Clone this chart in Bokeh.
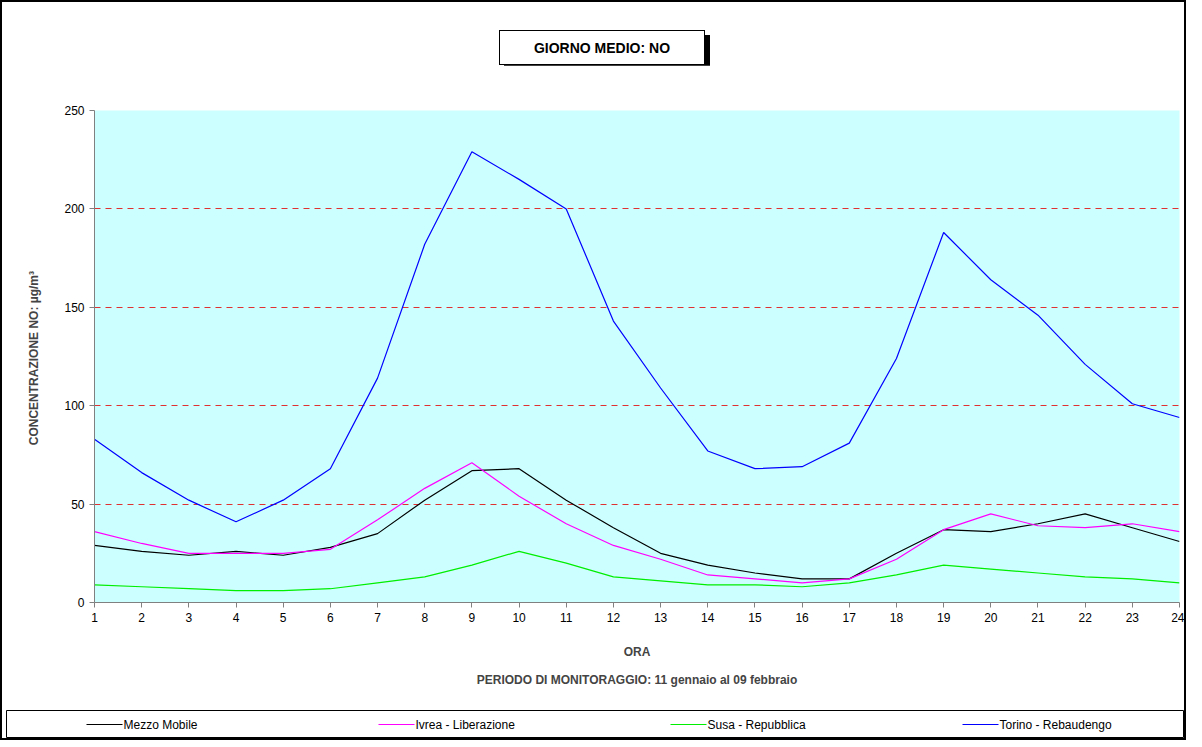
from bokeh.plotting import figure
from bokeh.models import Title, FixedTicker, Div
from bokeh.layouts import column, row
from bokeh.embed import file_html
from bokeh.resources import INLINE

ore = list(range(1, 25))
mezzo_mobile = [29, 26, 24, 26, 24, 28, 35, 52, 67, 68, 52, 38, 25, 19, 15, 12, 12, 25, 37, 36, 40, 45, 38, 31]
ivrea = [36, 30, 25, 25, 25, 27, 42, 58, 71, 54, 40, 29, 22, 14, 12, 10, 12, 22, 37, 45, 39, 38, 40, 36]
susa = [9, 8, 7, 6, 6, 7, 10, 13, 19, 26, 20, 13, 11, 9, 9, 8, 10, 14, 19, 17, 15, 13, 12, 10]
torino = [83, 66, 52, 41, 52, 68, 114, 182, 229, 215, 200, 143, 109, 77, 68, 69, 81, 124, 188, 164, 146, 121, 101, 94]
y_ticks = [0, 50, 100, 150, 200, 250]
serie = ["Mezzo Mobile", "Ivrea - Liberazione", "Susa - Repubblica", "Torino - Rebaudengo"]
colori = ["black", "#FF00FF", "#00EE00", "#0000FF"]

FONT = "Liberation Sans"

# riquadro titolo con ombra
titolo = Div(text="GIORNO MEDIO: NO", width=206, height=35,
             styles={"border": "1px solid black", "box-shadow": "5px 5px 0 black",
                     "background": "white", "font-family": FONT, "font-size": "14px",
                     "font-weight": "bold", "text-align": "center", "line-height": "35px",
                     "box-sizing": "border-box"})
titolo.margin = (28, 0, 0, 497)

p = figure(width=1182, height=639, x_range=(1, 24), y_range=(0, 250),
           output_backend="svg", toolbar_location=None,
           min_border_left=92, min_border_right=5, min_border_top=45, min_border_bottom=102)
p.background_fill_color = "#CCFFFF"
p.outline_line_color = None

p.xaxis.ticker = FixedTicker(ticks=ore)
p.yaxis.ticker = FixedTicker(ticks=y_ticks)
p.xgrid.grid_line_color = None
p.ygrid.grid_line_color = "#E03030"
p.ygrid.grid_line_dash = "6 5"
for ax in (p.xaxis, p.yaxis):
    ax.axis_line_color = "#808080"
    ax.major_tick_line_color = "#808080"
    ax.minor_tick_line_color = None
    ax.major_label_text_font = FONT
    ax.major_label_text_font_size = "12px"
    ax.major_label_text_color = "black"
    ax.axis_label_text_font = FONT
    ax.axis_label_text_font_size = "12px"
    ax.axis_label_text_font_style = "bold"
    ax.major_tick_in = 0
    ax.major_tick_out = 5
p.xaxis.axis_label = "ORA"
p.xaxis.axis_label_standoff = 20
p.yaxis.axis_label = "CONCENTRAZIONE NO:  µg/m³"
p.yaxis.axis_label_standoff = 20

for dati, col in zip([mezzo_mobile, ivrea, susa, torino], colori):
    p.line(ore, dati, color=col, line_width=1.2)

periodo = Title(text="PERIODO DI MONITORAGGIO: 11 gennaio al 09 febbraio", align="center",
                text_font=FONT, text_font_size="12px", text_font_style="bold", standoff=18)
p.add_layout(periodo, "below")

# legenda in basso
leg = figure(width=1178, height=28, x_range=(0, 1178), y_range=(0, 1),
             output_backend="svg", toolbar_location=None,
             min_border=0, min_border_left=0, min_border_right=0, min_border_top=0, min_border_bottom=0)
leg.axis.visible = False
leg.grid.visible = False
leg.outline_line_color = "black"
for i, (nome, col) in enumerate(zip(serie, colori)):
    x0 = 80 + i * 292
    leg.line([x0, x0 + 36], [0.5, 0.5], color=col, line_width=1.2)
    leg.text([x0 + 37], [0.5], text=[nome], text_font_size="12px", text_baseline="middle",
             text_font={"value": FONT})

riga = row(leg)
riga.margin = (6, 0, 0, 4)
layout = column(titolo, p, riga, spacing=0)
layout.styles = {"border": "2px solid black"}
open("out.html", "w").write(file_html(layout, INLINE))
